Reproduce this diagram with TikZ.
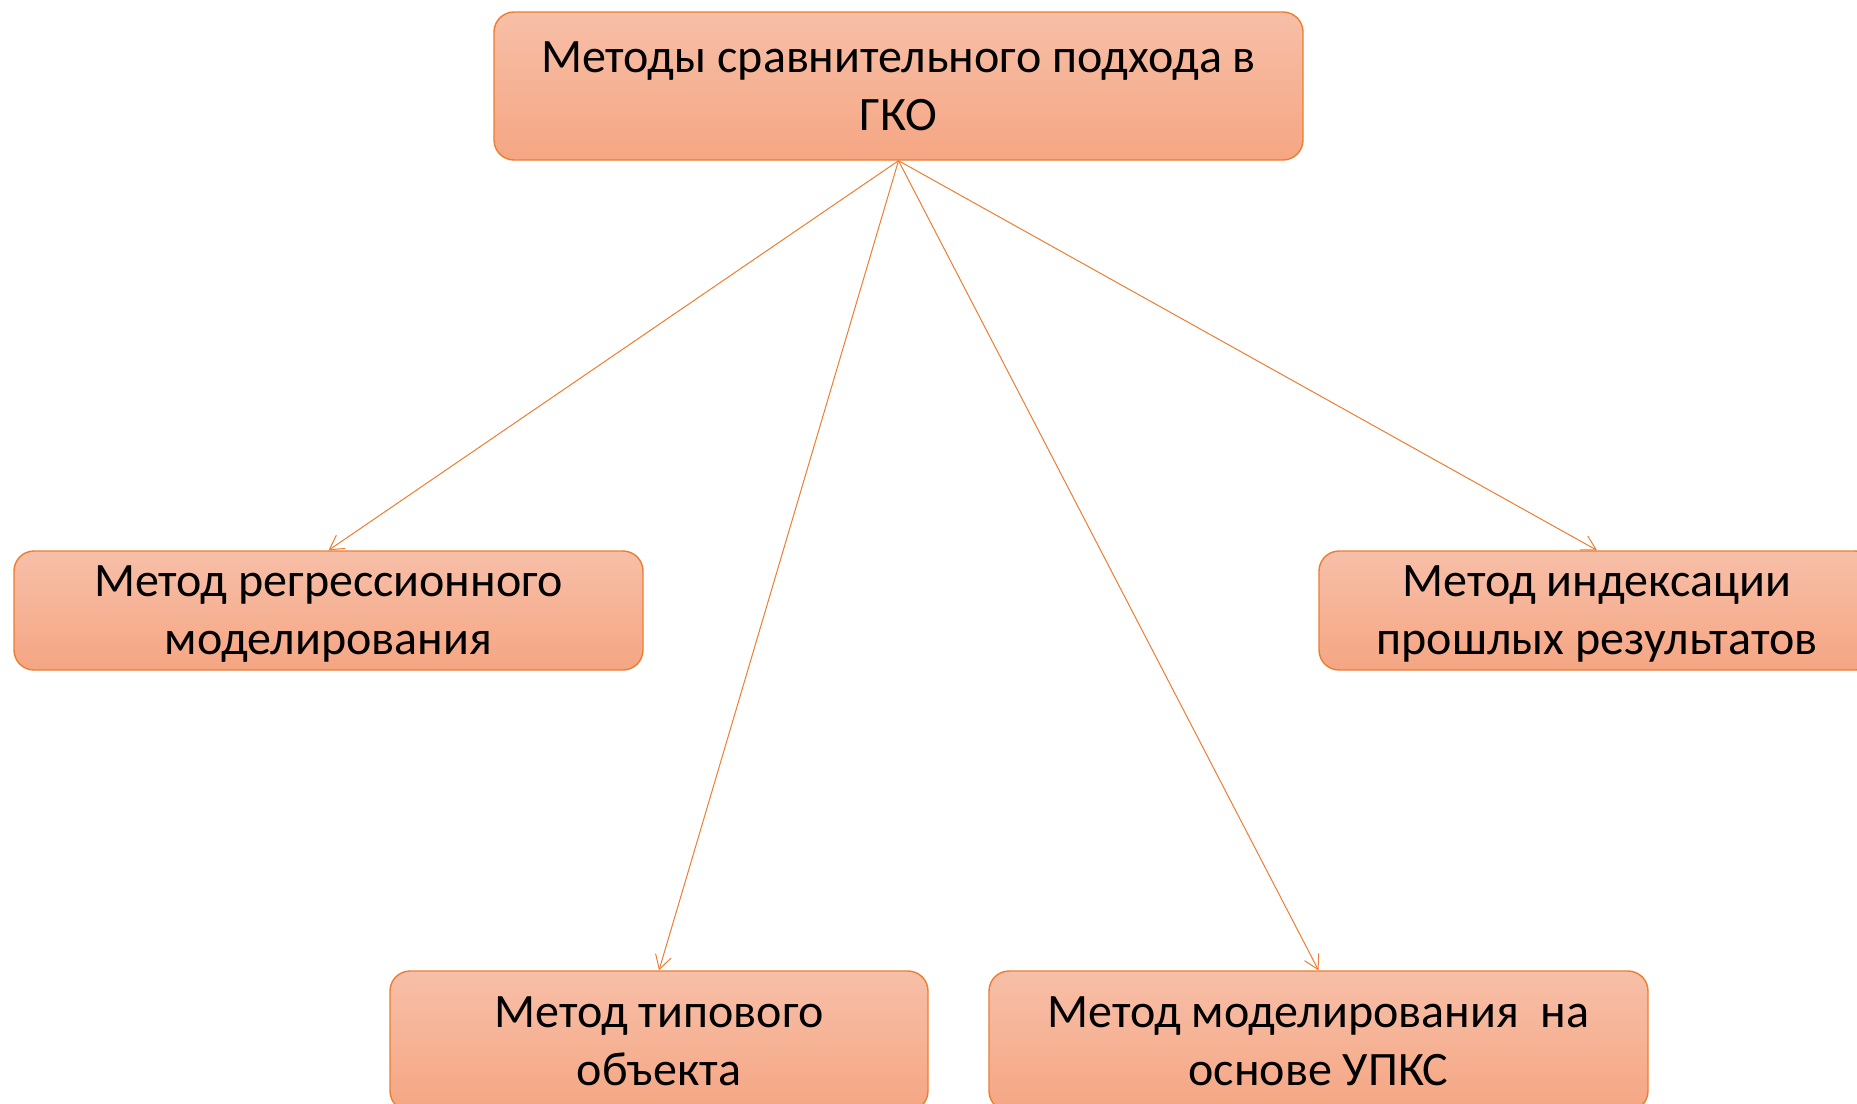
\documentclass[tikz,border=0pt]{standalone}
\usepackage{fontspec}
\setmainfont{Carlito}
\usetikzlibrary{arrows.meta, shapes}

\definecolor{boxline}{HTML}{ED7D31}
\definecolor{boxtop}{HTML}{F7BFA8}
\definecolor{boxbottom}{HTML}{F5A683}

\begin{document}
\begin{tikzpicture}[x=0.5pt, y=-0.5pt, ->, >={Straight Barb[length=7pt, width=8pt]}, line width=0.5pt, boxline,
        method/.style={rectangle, rounded corners=10pt, draw=boxline, line width=0.7pt, top color=boxtop, bottom color=boxbottom,
            text=black, align=center, inner sep=0pt, text depth=0pt, font=\fontsize{24}{29}\selectfont}]
		\useasboundingbox (0, 0) rectangle (1857, 1103);
		\node[method, minimum width=404.5pt, minimum height=74pt] (gko) at (898.5, 86) {Методы сравнительного подхода в\\ГКО};
		\node[method, minimum width=314.5pt, minimum height=59.5pt] (regr) at (328.5, 610.5) {Метод регрессионного\\моделирования};
		\node[method, minimum width=278pt, minimum height=59.5pt] (index) at (1597, 610.5) {Метод индексации\\прошлых результатов};
		\node[method, minimum width=269pt, minimum height=70pt] (typ) at (659, 1041) {Метод типового\\объекта};
		\node[method, minimum width=329.5pt, minimum height=70pt] (upks) at (1318.5, 1041) {Метод моделирования\ \ на\\основе УПКС};
		
		\path (gko.south) edge (regr.north)
        (gko.south) edge (typ.north)
        (gko.south) edge (upks.north)
		(gko.south) edge (index.north);
	\end{tikzpicture}
\end{document}
